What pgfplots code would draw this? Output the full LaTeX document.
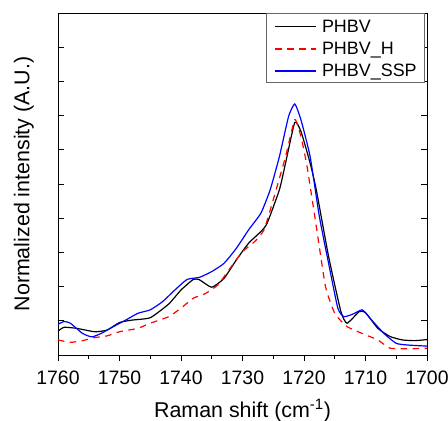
\documentclass[border=0pt]{standalone}
\usepackage{fontspec}
\setmainfont{Liberation Sans}
\usepackage{pgfplots}
\pgfplotsset{compat=1.18}

\begin{document}
\begin{tikzpicture}
\begin{axis}[
  scale only axis, width=369bp, height=342bp,
  x dir=reverse, xmin=1700, xmax=1760, ymin=0, ymax=10,
  xtick={1700,1710,...,1760}, minor x tick num=1,
  ytick={1,...,9}, yticklabels={},
  xtick pos=bottom, ytick pos=both,
  xtick align=outside, ytick align=inside,
  major tick length=6bp, minor tick length=3.5bp,
  tick style={black, line width=0.8pt},
  axis line style={black, line width=0.9pt},
  /pgf/number format/assume math mode=true,
  /pgf/number format/1000 sep={},
  xticklabel style={font=\fontsize{19.5}{22}\selectfont, anchor=base, yshift=-23bp},
  xlabel={Raman shift (cm\textsuperscript{-1})},
  ylabel={Normalized intensity (A.U.)},
  xlabel style={font=\fontsize{21.5}{24}\selectfont, at={([yshift=-62bp]rel axis cs:0.5,0)}, anchor=base},
  ylabel style={font=\fontsize{21.5}{24}\selectfont, at={([xshift=-28.5bp]rel axis cs:0,0.5)}, anchor=base},
]
% PHBV
\addplot[black, line width=1.2pt, smooth, tension=0.3] coordinates {
 (1760,0.70) (1759,0.81) (1757,0.78) (1754,0.68) (1752,0.73) (1750,0.95)
 (1748,1.02) (1745,1.09) (1742,1.49) (1740,1.90) (1738,2.21) (1737,2.20)
 (1735,1.98) (1733,2.24) (1731,2.78) (1729,3.27) (1727,3.61) (1726,3.85)
 (1724,4.83) (1723,5.61) (1721.5,6.80) (1720.5,6.54) (1719,5.61) (1718,4.83)
 (1716,2.88) (1714,1.27) (1713,0.93) (1711,1.27) (1710,1.24) (1708,0.78)
 (1706,0.54) (1704,0.44) (1702,0.42) (1700,0.45)};
% PHBV_H
\addplot[red, line width=1.2pt, dash pattern=on 6.5bp off 5.5bp, smooth, tension=0.3] coordinates {
 (1760,0.44) (1758,0.37) (1756,0.42) (1754,0.51) (1752,0.56) (1750,0.68)
 (1747,0.78) (1745,0.93) (1742,1.12) (1740,1.37) (1738,1.66) (1736,1.80)
 (1734,2.05) (1732,2.54) (1730,3.02) (1728,3.32) (1726.5,3.66) (1725,4.54)
 (1723,5.80) (1721.5,6.88) (1720.5,6.39) (1719.5,5.51) (1718,3.76) (1716.5,2.00)
 (1715,1.22) (1713,0.83) (1710,0.59) (1708,0.44) (1706,0.20) (1703,0.18)
 (1700,0.20)};
% PHBV_SSP
\addplot[blue, line width=1.2pt, smooth, tension=0.3] coordinates {
 (1760,0.90) (1759,0.98) (1758,0.93) (1756,0.63) (1754.5,0.53) (1753,0.63)
 (1751,0.83) (1749,1.02) (1747,1.22) (1745,1.32) (1743,1.56) (1741,1.90)
 (1739,2.21) (1737,2.27) (1735,2.44) (1733,2.68) (1731,3.12) (1729,3.66)
 (1727,4.15) (1725.5,4.83) (1724,5.80) (1722.5,6.98) (1721.5,7.34) (1720.5,6.88)
 (1719,5.80) (1717.5,4.05) (1716,2.68) (1714.5,1.37) (1713.5,1.12) (1712,1.20)
 (1710.5,1.32) (1709,1.02) (1707,0.63) (1705,0.34) (1703,0.29) (1700,0.26)};
\coordinate (sw) at (rel axis cs:0,0);
\coordinate (ne) at (rel axis cs:1,1);
\end{axis}
% legend box
\node[draw=black!60, line width=0.9pt, fill=white, anchor=north east, inner sep=0pt,
  minimum width=158bp, minimum height=69bp] (leg) at ([xshift=-2bp]ne) {};
\draw[black, line width=1.2pt] ([shift={(9bp,-13.7bp)}]leg.north west) -- ++(40.5bp,0);
\draw[red, line width=1.2pt, dash pattern=on 6.5bp off 5.5bp] ([shift={(9bp,-36bp)}]leg.north west) -- ++(40.5bp,0);
\draw[blue, line width=1.2pt] ([shift={(9bp,-58bp)}]leg.north west) -- ++(40.5bp,0);
\begin{scope}[every node/.style={anchor=base west, inner sep=0pt, font=\fontsize{18}{20}\selectfont}]
\node at ([shift={(55.7bp,-20bp)}]leg.north west) {PHBV};
\node at ([shift={(55.7bp,-42bp)}]leg.north west) {PHBV\_H};
\node at ([shift={(55.7bp,-64bp)}]leg.north west) {PHBV\_SSP};
\end{scope}
\pgfresetboundingbox
\path[use as bounding box] ([shift={(-58bp,-66bp)}]sw) rectangle ([shift={(21bp,13bp)}]ne);
\end{tikzpicture}
\end{document}
